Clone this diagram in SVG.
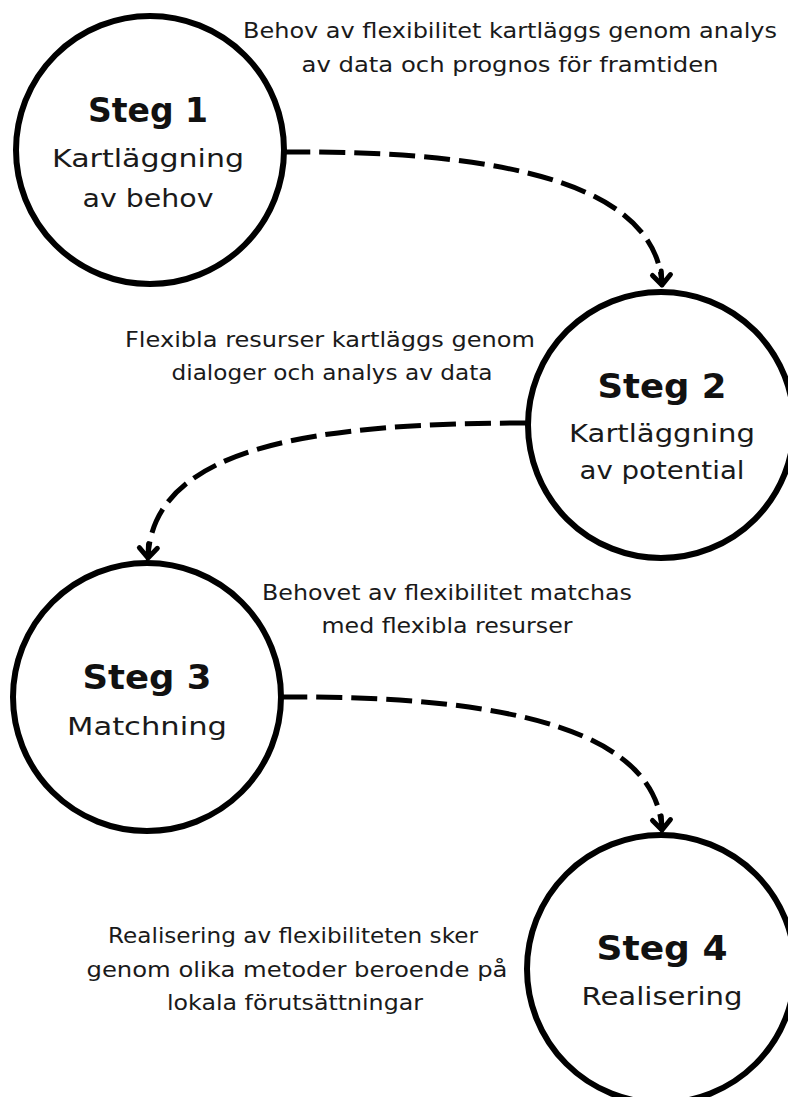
<svg xmlns="http://www.w3.org/2000/svg" width="788" height="1097" viewBox="0 0 788 1097">
<style>
  .node { fill: #ffffff; stroke: #000000; stroke-width: 6; }
  .title { font-family: "DejaVu Sans", "Liberation Sans", sans-serif; font-weight: bold; font-size: 34px; fill: #111111; text-anchor: middle; }
  .sub { font-family: "DejaVu Sans", "Liberation Sans", sans-serif; font-size: 24px; fill: #1a1a1a; text-anchor: middle; }
  .note { font-family: "DejaVu Sans", "Liberation Sans", sans-serif; font-size: 21px; fill: #1a1a1a; text-anchor: middle; }
  .conn { fill: none; stroke: #000000; stroke-width: 5; stroke-dasharray: 26 9; }
</style>
<defs>
  <marker id="arrow" markerUnits="userSpaceOnUse" markerWidth="30" markerHeight="30" viewBox="-20 -15 30 30" refX="0" refY="0" orient="auto">
    <path d="M-10,-9 L0,0 L-10,9 M0,0 L-14,0" fill="none" stroke="#000" stroke-width="5" stroke-linecap="round" stroke-linejoin="round"/>
  </marker>
</defs>
<rect width="788" height="1097" fill="#ffffff"/>

<g id="connectors">
  <path class="conn" d="M284,152 C520,150 657,190 662,285" marker-end="url(#arrow)"/>
  <path class="conn" d="M526,423 C320,423 152,445 148,558" marker-end="url(#arrow)"/>
  <path class="conn" d="M281,697 C520,695 657,735 662,830" marker-end="url(#arrow)"/>
</g>

<g id="step1">
  <circle class="node" cx="150" cy="150" r="134"/>
  <text class="title" x="148" y="122" textLength="120" lengthAdjust="spacingAndGlyphs">Steg 1</text>
  <text class="sub" x="148" y="167" textLength="192" lengthAdjust="spacingAndGlyphs">Kartläggning</text>
  <text class="sub" x="148" y="207" textLength="131" lengthAdjust="spacingAndGlyphs">av behov</text>
</g>

<g id="step2">
  <circle class="node" cx="661" cy="425" r="133"/>
  <text class="title" x="662" y="398" textLength="129" lengthAdjust="spacingAndGlyphs">Steg 2</text>
  <text class="sub" x="662" y="442" textLength="186" lengthAdjust="spacingAndGlyphs">Kartläggning</text>
  <text class="sub" x="662" y="479" textLength="165" lengthAdjust="spacingAndGlyphs">av potential</text>
</g>

<g id="step3">
  <circle class="node" cx="147" cy="697" r="134"/>
  <text class="title" x="147" y="689" textLength="129" lengthAdjust="spacingAndGlyphs">Steg 3</text>
  <text class="sub" x="147" y="735" textLength="160" lengthAdjust="spacingAndGlyphs">Matchning</text>
</g>

<g id="step4">
  <circle class="node" cx="661" cy="969" r="134"/>
  <text class="title" x="662" y="960" textLength="131" lengthAdjust="spacingAndGlyphs">Steg 4</text>
  <text class="sub" x="662" y="1005" textLength="161" lengthAdjust="spacingAndGlyphs">Realisering</text>
</g>

<g id="note1">
  <text class="note" x="510" y="38" textLength="534" lengthAdjust="spacingAndGlyphs">Behov av flexibilitet kartläggs genom analys</text>
  <text class="note" x="510" y="72" textLength="417" lengthAdjust="spacingAndGlyphs">av data och prognos för framtiden</text>
</g>

<g id="note2">
  <text class="note" x="330" y="347" textLength="410" lengthAdjust="spacingAndGlyphs">Flexibla resurser kartläggs genom</text>
  <text class="note" x="332" y="380" textLength="321" lengthAdjust="spacingAndGlyphs">dialoger och analys av data</text>
</g>

<g id="note3">
  <text class="note" x="447" y="600" textLength="370" lengthAdjust="spacingAndGlyphs">Behovet av flexibilitet matchas</text>
  <text class="note" x="447" y="633" textLength="251" lengthAdjust="spacingAndGlyphs">med flexibla resurser</text>
</g>

<g id="note4">
  <text class="note" x="293" y="943" textLength="370" lengthAdjust="spacingAndGlyphs">Realisering av flexibiliteten sker</text>
  <text class="note" x="297" y="977" textLength="421" lengthAdjust="spacingAndGlyphs">genom olika metoder beroende på</text>
  <text class="note" x="295" y="1010" textLength="256" lengthAdjust="spacingAndGlyphs">lokala förutsättningar</text>
</g>
</svg>
